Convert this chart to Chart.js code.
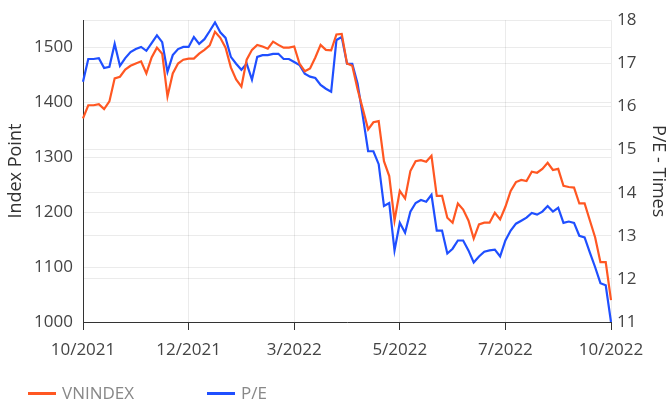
<!DOCTYPE html>
<html>
<head>
<meta charset="utf-8">
<script src="https://cdn.jsdelivr.net/npm/chart.js@4.4.0/dist/chart.umd.min.js"></script>
<style>
  html, body { margin: 0; padding: 0; background: #fff; }
  #wrap { position: relative; width: 669px; height: 403px; }
  #legend { position: absolute; left: 28px; top: 381px; font-family: "Open Sans", sans-serif; font-size: 17px; color: #888; }
  .item { position: absolute; top: 0; white-space: nowrap; }
  .swatch { display: inline-block; width: 28px; height: 3px; vertical-align: middle; margin-right: 6px; position: relative; top: -1px; }
</style>
</head>
<body>
<div id="wrap">
  <canvas id="chart" width="669" height="403"></canvas>
  <div id="legend"></div>
</div>
<script>
// Truc thoi gian: 101 phien (lay mau), nhan hien thi moi 20 diem
var tickLabels = ['10/2021', '12/2021', '3/2022', '5/2022', '7/2022', '10/2022'];
var tickStep = 20;

var vnindex = [
  1371, 1395, 1395, 1397, 1388, 1402, 1444, 1447, 1460, 1467,
  1471, 1475, 1453, 1482, 1500, 1489, 1411, 1453, 1471, 1478,
  1480, 1480, 1489, 1496, 1504, 1529, 1518, 1500, 1464, 1442,
  1429, 1478, 1496, 1505, 1502, 1498, 1511, 1505, 1500, 1500,
  1502, 1471, 1457, 1462, 1482, 1505, 1496, 1495, 1524, 1525,
  1471, 1467, 1424, 1388, 1351, 1364, 1366, 1293, 1266, 1185,
  1239, 1225, 1275, 1293, 1295, 1292, 1303, 1230, 1230, 1190,
  1181, 1216, 1205, 1185, 1152, 1178, 1181, 1181, 1199, 1187,
  1210, 1239, 1255, 1259, 1257, 1274, 1272, 1279, 1290, 1277,
  1279, 1248, 1246, 1245, 1216, 1216, 1185, 1154, 1109, 1109,
  1040
];

var pe = [
  16.57, 17.10, 17.10, 17.12, 16.89, 16.92, 17.45, 16.94, 17.12, 17.26,
  17.33, 17.38, 17.29, 17.47, 17.65, 17.49, 16.80, 17.19, 17.33, 17.38,
  17.38, 17.61, 17.45, 17.56, 17.75, 17.95, 17.72, 17.59, 17.15, 16.99,
  16.85, 16.99, 16.62, 17.15, 17.19, 17.19, 17.22, 17.22, 17.10, 17.10,
  17.03, 16.96, 16.76, 16.69, 16.66, 16.50, 16.41, 16.34, 17.54, 17.61,
  16.99, 16.99, 16.53, 15.77, 14.96, 14.96, 14.66, 13.69, 13.76, 12.66,
  13.30, 13.07, 13.56, 13.76, 13.83, 13.79, 13.95, 13.12, 13.12, 12.59,
  12.70, 12.89, 12.89, 12.66, 12.38, 12.52, 12.63, 12.66, 12.68, 12.52,
  12.89, 13.12, 13.28, 13.35, 13.42, 13.53, 13.49, 13.56, 13.69, 13.56,
  13.65, 13.30, 13.33, 13.30, 13.00, 12.96, 12.61, 12.27, 11.90, 11.85,
  11.00
];

var categories = vnindex.map(function(v, i) { return i; });

var orange = '#ff5722';
var blue = '#1f4fff';
var gridColor = 'rgba(0, 0, 0, 0.08)';
var axisColor = '#333';
var font = { family: '"Open Sans", sans-serif', size: 17 };

var ctx = document.getElementById('chart').getContext('2d');

var chart = new Chart(ctx, {
  type: 'line',
  data: {
    labels: categories,
    datasets: [{
      label: 'VNINDEX',
      data: vnindex,
      yAxisID: 'y',
      borderColor: orange,
      borderWidth: 2.2,
      pointRadius: 0,
      tension: 0
    }, {
      label: 'P/E',
      data: pe,
      yAxisID: 'y1',
      borderColor: blue,
      borderWidth: 2.2,
      pointRadius: 0,
      tension: 0
    }]
  },
  options: {
    responsive: false,
    animation: false,
    layout: { padding: { top: 18, left: 0, right: 0, bottom: 0 } },
    plugins: {
      legend: { display: false },
      tooltip: { enabled: false }
    },
    scales: {
      x: {
        type: 'category',
        offset: false,
        border: { color: axisColor, width: 1 },
        grid: { color: gridColor, tickColor: axisColor, tickLength: 8 },
        ticks: {
          autoSkip: false,
          maxRotation: 0,
          padding: 10,
          color: '#444',
          font: font,
          callback: function(value, index) {
            return index % tickStep === 0 ? tickLabels[index / tickStep] : null;
          }
        },
        afterFit: function(scale) { scale.height = 81; }
      },
      y: {
        position: 'left',
        min: 1000,
        max: 1550,
        border: { color: axisColor, width: 1 },
        grid: { color: gridColor, drawTicks: false },
        ticks: {
          stepSize: 100, padding: 10, color: '#444', font: font,
          callback: function(value) { return String(value); }
        },
        afterBuildTicks: function(scale) {
          scale.ticks = scale.ticks.filter(function(t) { return t.value % 100 === 0; });
        },
        title: {
          display: true,
          text: 'Index Point',
          color: '#333',
          font: { family: '"Open Sans", sans-serif', size: 18 },
          padding: { top: 5 }
        },
        afterFit: function(scale) { scale.width = 83; }
      },
      y1: {
        position: 'right',
        min: 11,
        max: 18,
        border: { display: false },
        grid: { color: gridColor, drawTicks: false },
        ticks: {
          stepSize: 1, padding: 6, color: '#444', font: font,
          callback: function(value) { return String(value); }
        },
        title: {
          display: true,
          text: 'P/E - Times',
          color: '#333',
          font: { family: '"Open Sans", sans-serif', size: 18 },
          padding: { top: 0 }
        },
        afterFit: function(scale) { scale.width = 58; }
      }
    }
  }
});

// Chu thich kieu HTML ben duoi bieu do
var legend = document.getElementById('legend');
var legendItems = [
  { text: 'VNINDEX', color: orange, left: 0 },
  { text: 'P/E', color: blue, left: 179 }
];
legendItems.forEach(function(item) {
  var el = document.createElement('span');
  el.className = 'item';
  el.style.left = item.left + 'px';
  el.innerHTML = '<span class="swatch" style="background:' + item.color + '"></span>' + item.text;
  legend.appendChild(el);
});
</script>
</body>
</html>
